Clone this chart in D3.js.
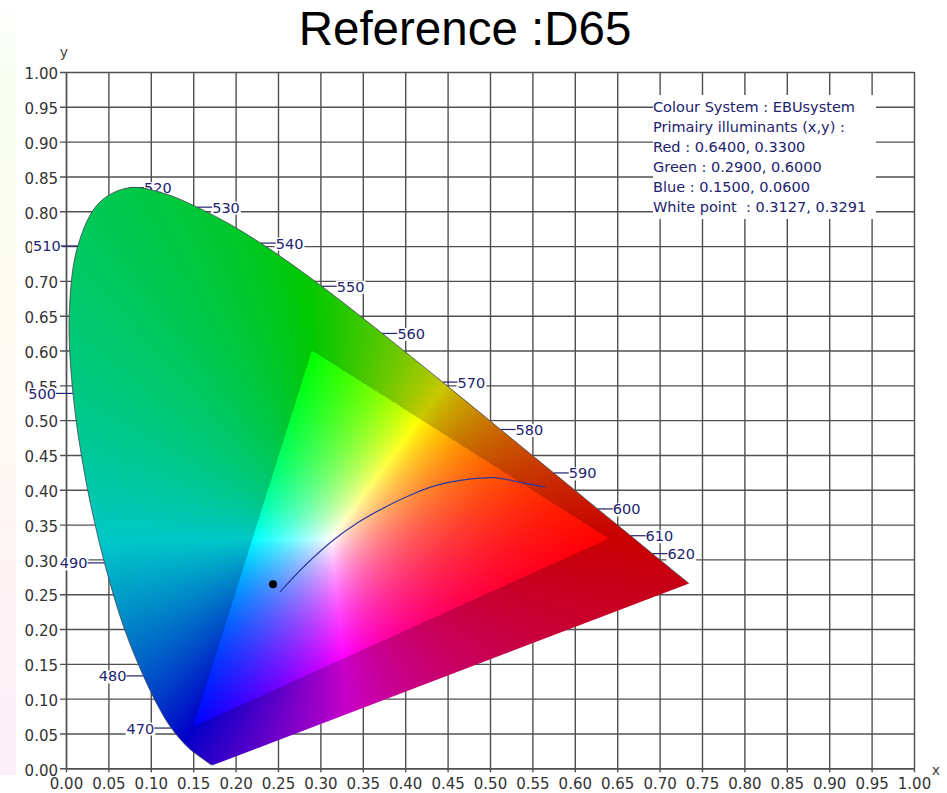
<!DOCTYPE html>
<html>
<head>
<meta charset="utf-8">
<style>
  html,body{margin:0;padding:0;background:#fff;overflow:hidden}
  svg{display:block}
  text{font-family:"DejaVu Sans",sans-serif;white-space:pre}
</style>
<script src="https://cdn.jsdelivr.net/npm/d3@7/dist/d3.min.js"></script>
</head>
<body>
<svg id="chart"></svg>
<script>
// spectral locus, CIE 1931, by wavelength
let wavelengths = [380,420,430,440,450,460,470,475,480,485,490,495,500,505,510,515,520,525,530,535,540,545,550,555,560,565,570,575,580,585,590,595,600,605,610,615,620,625,630,640,650,700]
let locusX = [.1741,.1714,.1689,.1644,.1566,.1440,.1241,.1096,.0913,.0687,.0454,.0235,.0082,.0039,.0139,.0389,.0743,.1142,.1547,.1929,.2296,.2658,.3016,.3373,.3731,.4087,.4441,.4788,.5125,.5448,.5752,.6029,.6270,.6482,.6658,.6801,.6915,.7006,.7079,.7190,.7260,.7347]
let locusY = [.0050,.0051,.0069,.0109,.0177,.0297,.0578,.0868,.1327,.2007,.2950,.4127,.5384,.6548,.7502,.8120,.8338,.8262,.8059,.7816,.7543,.7243,.6923,.6589,.6245,.5896,.5547,.5202,.4866,.4544,.4242,.3965,.3725,.3514,.3340,.3197,.3083,.2993,.2920,.2809,.2740,.2653]
let labelledLeft = [470,480,490,500,510]
let labelledRight = [520,530,540,550,560,570,580,590,600,610,620]

// blackbody style curve and the measured point
let curveX = [.2524,.2797,.315,.343,.374,.4057,.4375,.4646,.5035,.5354,.5649]
let curveY = [.2533,.2888,.3276,.352,.3736,.3922,.4066,.4135,.4175,.4109,.4037]
let pointX = [.2441]
let pointY = [.2644]

// EBU primaries and white, x then y
let primaryX = [.64,.29,.15]
let primaryY = [.33,.60,.06]
let whiteXY = [.3127,.3291]

let tickValues = d3.range(0,21).map(d => d*5/100)
let infoLines = ['Colour System : EBUsystem','Primairy illuminants (x,y) :','Red : 0.6400, 0.3300','Green : 0.2900, 0.6000','Blue : 0.1500, 0.0600','White point  : 0.3127, 0.3291']

let width = 947
let height = 793
let plotLeft = 66, plotRight = 914, plotTop = 72, plotBottom = 768.3
let ink = '#22226e'
let gridColor = '#505050'

let svg = d3.select('#chart').attr('width',width).attr('height',height)

// faint strip on the left edge
let defs = svg.append('defs')
let strip = defs.append('linearGradient').attr('id','strip').attr('x1',0).attr('x2',0).attr('y1',0).attr('y2',1)
strip.append('stop').attr('offset','0%').attr('stop-color','#fff')
strip.append('stop').attr('offset','12%').attr('stop-color','#f6fdee')
strip.append('stop').attr('offset','50%').attr('stop-color','#fff9f2')
strip.append('stop').attr('offset','100%').attr('stop-color','#fdeef8')
svg.append('rect').attr('x',0).attr('y',0).attr('width',16).attr('height',775).attr('fill','url(#strip)')

let xScale = d3.scaleLinear().domain([0,1]).range([plotLeft,plotRight])
let yScale = d3.scaleLinear().domain([0,1]).range([plotBottom,plotTop])

svg.append('text').attr('x',465).attr('y',45).attr('text-anchor','middle')
  .style('font-family','"Liberation Sans",Arial,sans-serif').style('font-size','47.5px')
  .attr('fill','#000').text('Reference :D65')

// axes, grid lines are the ticks pulled through the plot
let format = d3.format('.2f')
let xAxis = d3.axisBottom(xScale).tickValues(tickValues).tickFormat(format).tickSizeOuter(0)
let yAxis = d3.axisLeft(yScale).tickValues(tickValues).tickFormat(format).tickSizeOuter(0)

let xAxisG = svg.append('g').attr('transform',`translate(0,${plotBottom})`).call(xAxis)
let yAxisG = svg.append('g').attr('transform',`translate(${plotLeft},0)`).call(yAxis)
xAxisG.selectAll('.tick line').attr('y1',4).attr('y2',plotTop-plotBottom)
yAxisG.selectAll('.tick line').attr('x1',-6).attr('x2',plotRight-plotLeft)
svg.selectAll('.domain').attr('stroke',gridColor).attr('stroke-width',1.4)
svg.selectAll('.tick line').attr('stroke',gridColor).attr('stroke-width',1.4)
svg.selectAll('.tick text').attr('fill','#333').style('font-family','"DejaVu Sans",sans-serif').style('font-size','15px')
xAxisG.selectAll('.tick text').attr('y',10.5)
yAxisG.selectAll('.tick text').attr('x',-8).attr('dy','.45em')

svg.append('text').attr('x',936).attr('y',775).attr('text-anchor','middle').attr('fill','#444').style('font-size','14px').text('x')
svg.append('text').attr('x',64).attr('y',57).attr('text-anchor','middle').attr('fill','#444').style('font-size','14px').text('y')

// wavelength labels sit under the colour field, opaque like the grid gap they leave
let labelG = svg.append('g')
function addLabel(wave,side){
  let i = wavelengths.indexOf(wave)
  let px = xScale(locusX[i])
  let py = yScale(locusY[i])
  let g = labelG.append('g')
  let rect = g.append('rect').attr('fill','#fff')
  let endX = side > 0 ? px + 15 : px - 17
  let t = g.append('text').attr('x',endX).attr('y',py + 5.5)
    .attr('text-anchor',side > 0 ? 'start' : 'end')
    .attr('fill',ink).style('font-size','14.5px').text(wave)
  let box = t.node().getBBox()
  rect.attr('x',box.x - 1).attr('y',box.y + 2).attr('width',box.width + 2).attr('height',box.height - 3)
  g.append('line').attr('x1',px).attr('x2',endX).attr('y1',py).attr('y2',py).attr('stroke',ink).attr('stroke-width',1.2)
}
labelledLeft.forEach(d => addLabel(d,-1))
labelledRight.forEach(d => addLabel(d,1))

// info block on white
let infoG = svg.append('g')
infoG.append('rect').attr('x',653).attr('y',95).attr('width',223).attr('height',124).attr('fill','#fff')
infoG.selectAll('text').data(infoLines).enter().append('text')
  .attr('x',653).attr('y',(d,i) => 112 + i*20).attr('fill',ink)
  .style('font-size','14.5px').text(d => d)

// colour field
function xyToRgb(){
  let [xr,xg,xb] = primaryX
  let [yr,yg,yb] = primaryY
  let zr = 1-xr-yr, zg = 1-xg-yg, zb = 1-xb-yb
  let m = [
    [yg*zb-yb*zg, xb*zg-xg*zb, xg*yb-xb*yg],
    [yb*zr-yr*zb, xr*zb-xb*zr, xb*yr-xr*yb],
    [yr*zg-yg*zr, xg*zr-xr*zg, xr*yg-xg*yr]
  ]
  let [xw,yw] = whiteXY
  let zw = 1-xw-yw
  let w = m.map(row => (row[0]*xw+row[1]*yw+row[2]*zw)/yw)
  return (x,y) => {
    let z = 1-x-y
    return m.map((row,i) => (row[0]*x+row[1]*y+row[2]*z)/w[i])
  }
}
let toRgb = xyToRgb()
let fieldW = Math.ceil(plotRight-plotLeft)
let fieldH = Math.ceil(plotBottom-plotTop)
let canvas = document.createElement('canvas')
canvas.width = fieldW
canvas.height = fieldH
let ctx = canvas.getContext('2d')
let image = ctx.createImageData(fieldW,fieldH)
for (let j = 0; j < fieldH; j++){
  for (let i = 0; i < fieldW; i++){
    let rgb = toRgb(xScale.invert(plotLeft+i+.5),yScale.invert(plotTop+j+.5))
    let lowest = Math.min(rgb[0],rgb[1],rgb[2])
    // out of gamut: add white until nothing is negative, and darken
    let c = lowest < 0 ? rgb.map(d => d-lowest) : rgb
    let peak = Math.max(c[0],c[1],c[2])
    let gain = (lowest < 0 ? 200 : 255)/peak
    let k = (j*fieldW+i)*4
    image.data[k] = c[0]*gain
    image.data[k+1] = c[1]*gain
    image.data[k+2] = c[2]*gain
    image.data[k+3] = 255
  }
}
ctx.putImageData(image,0,0)

let locusLine = d3.line().x(i => xScale(locusX[i])).y(i => yScale(locusY[i])).curve(d3.curveCatmullRom)
let locusIdx = d3.range(wavelengths.length)
defs.append('clipPath').attr('id','locus').append('path').attr('d',locusLine(locusIdx)+'Z')
svg.append('image').attr('x',plotLeft).attr('y',plotTop).attr('width',fieldW).attr('height',fieldH)
  .attr('href',canvas.toDataURL()).attr('clip-path','url(#locus)')
svg.append('path').attr('d',locusLine(locusIdx)).attr('fill','none').attr('stroke','#445').attr('stroke-width',.8)

let curveLine = d3.line().x((d,i) => xScale(curveX[i])).y((d,i) => yScale(curveY[i])).curve(d3.curveCatmullRom)
svg.append('path').attr('d',curveLine(curveX)).attr('fill','none').attr('stroke','#2a3a9c').attr('stroke-width',1.2)
svg.selectAll('.point').data(pointX).enter().append('circle').attr('class','point')
  .attr('cx',d => xScale(d)).attr('cy',(d,i) => yScale(pointY[i])).attr('r',4).attr('fill','#000')
</script>
</body>
</html>
